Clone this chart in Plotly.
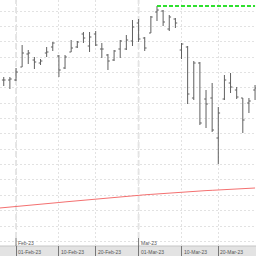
import plotly.graph_objects as go

# ---------------- data ----------------
dates = ["2023-01-30", "2023-01-31",
         "2023-02-01", "2023-02-02", "2023-02-03", "2023-02-06", "2023-02-07", "2023-02-08",
         "2023-02-09", "2023-02-10", "2023-02-13", "2023-02-14", "2023-02-15", "2023-02-16",
         "2023-02-17", "2023-02-20", "2023-02-21", "2023-02-22", "2023-02-23", "2023-02-24",
         "2023-02-27", "2023-02-28",
         "2023-03-01", "2023-03-02", "2023-03-03", "2023-03-06", "2023-03-07", "2023-03-08",
         "2023-03-09", "2023-03-10", "2023-03-13", "2023-03-14", "2023-03-15", "2023-03-16",
         "2023-03-17", "2023-03-20", "2023-03-21", "2023-03-22", "2023-03-23", "2023-03-24",
         "2023-03-27", "2023-03-28"]
opens = [37.0, 37.0, 37.0, 38.3, 39.6, 39.0, 38.7, 39.7, 40.3, 39.4, 38.2, 39.8, 40.3, 41.6,
         40.4, 41.6, 40.1, 39.5, 39.0, 40.1, 40.1, 40.9, 42.7, 41.2, 41.7, 43.8, 43.9, 42.1,
         43.1, 40.0, 40.3, 35.2, 38.7, 35.1, 35.2, 31.2, 35.1, 36.7, 36.0, 35.2, 34.7, 36.0]
highs = [37.3, 37.3, 38.2, 40.5, 40.0, 39.3, 39.1, 40.3, 40.8, 39.5, 39.5, 41.0, 40.9, 41.8,
         41.8, 41.9, 40.7, 39.6, 40.0, 41.0, 41.5, 43.0, 43.1, 41.3, 43.4, 44.4, 44.0, 43.5,
         43.2, 40.7, 40.4, 38.9, 38.8, 36.0, 36.7, 34.3, 37.5, 37.7, 36.3, 35.2, 35.2, 36.5]
lows = [36.4, 36.1, 36.9, 38.3, 38.6, 38.1, 38.5, 39.3, 39.9, 37.3, 38.1, 39.8, 40.2, 40.7,
        39.8, 40.4, 39.2, 38.0, 38.9, 39.2, 40.0, 40.4, 40.8, 39.9, 41.7, 42.9, 42.4, 41.9,
        42.2, 39.1, 34.6, 35.0, 32.5, 32.2, 31.8, 28.6, 35.0, 35.7, 35.1, 31.7, 33.7, 35.0]
closes = [37.0, 37.1, 37.8, 39.7, 39.7, 38.8, 38.9, 39.8, 40.7, 38.0, 39.3, 40.2, 40.8, 41.2,
          41.3, 40.5, 40.1, 38.9, 39.9, 40.9, 41.0, 42.3, 41.1, 40.2, 43.3, 44.0, 42.8, 43.3,
          42.7, 40.6, 35.6, 38.7, 32.7, 34.6, 32.0, 33.7, 37.0, 36.3, 35.3, 33.0, 34.9, 36.2]

ma_dates = ["2023-01-27"] + dates
ma_values = [24.18, 24.23, 24.29, 24.35, 24.41, 24.47, 24.52, 24.58, 24.64, 24.70, 24.75,
             24.81, 24.87, 24.93, 24.98, 25.04, 25.10, 25.15, 25.21, 25.27, 25.33, 25.38,
             25.43, 25.47, 25.52, 25.56, 25.61, 25.65, 25.70, 25.75, 25.79, 25.84, 25.88,
             25.91, 25.94, 25.97, 26.01, 26.04, 26.07, 26.10, 26.13, 26.16, 26.20]

tick_dates = ["2023-02-01", "2023-02-10", "2023-02-20", "2023-03-01", "2023-03-10", "2023-03-20"]
tick_labels = ["01-Feb-23", "10-Feb-23", "20-Feb-23", "01-Mar-23", "10-Mar-23", "20-Mar-23"]
month_dates = ["2023-02-01", "2023-03-01"]
month_labels = ["Feb-23", "Mar-23"]

# ---------------- figure ----------------
fig = go.Figure()

fig.add_trace(go.Scatter(x=ma_dates, y=ma_values, mode="lines",
                         line=dict(color="#f47070", width=1), hoverinfo="skip"))

fig.add_trace(go.Ohlc(x=dates, open=opens, high=highs, low=lows, close=closes,
                      increasing=dict(line=dict(color="#606060", width=1)),
                      decreasing=dict(line=dict(color="#606060", width=1)),
                      tickwidth=0.3))

peak_i = highs.index(max(highs))
fig.add_trace(go.Scatter(x=dates[peak_i:], y=[max(highs)] * len(dates[peak_i:]),
                         mode="lines", line=dict(color="#2ee02e", width=2, dash="4px,2px"),
                         hoverinfo="skip"))

H = 256.0
# bottom axis band
fig.add_shape(type="rect", xref="paper", yref="paper", x0=-0.01, x1=1.01, y0=-0.01, y1=10 / H,
              fillcolor="#e3e3e3", line=dict(color="#c6c6c6", width=1), layer="between")

for d, lab in zip(month_dates, month_labels):
    fig.add_shape(type="line", xref="x", yref="paper", x0=d, x1=d, y0=18 / H, y1=1,
                  line=dict(color="#e6e6e6", width=2, dash="6px,3px"), layer="below")
    fig.add_shape(type="line", xref="x", yref="paper", x0=d, x1=d, y0=10 / H, y1=18 / H,
                  line=dict(color="#777777", width=1), layer="above")
    fig.add_annotation(x=d, y=13.5 / H, xref="x", yref="paper", text=lab, showarrow=False,
                       xanchor="left", yanchor="middle", xshift=0,
                       font=dict(family="Liberation Sans", size=5, color="#555555"))

for d, lab in zip(tick_dates, tick_labels):
    fig.add_annotation(x=d, y=4.5 / H, xref="x", yref="paper", text=lab, showarrow=False,
                       xanchor="left", yanchor="middle", xshift=0,
                       font=dict(family="Liberation Sans", size=5, color="#555555"))

fig.update_layout(
    width=256, height=256,
    margin=dict(l=0, r=0, t=0, b=0),
    paper_bgcolor="white", plot_bgcolor="white",
    showlegend=False,
    xaxis=dict(
        type="date",
        range=["2023-01-27 09:20", "2023-03-28 03:40"],
        rangebreaks=[dict(bounds=["sat", "mon"])],
        rangeslider=dict(visible=False),
        tickmode="array", tickvals=tick_dates, ticktext=tick_labels,
        showticklabels=False,
        ticks="inside", ticklen=10, tickcolor="#777777", tickwidth=1,
        showgrid=True, gridcolor="#e2e2e2", gridwidth=1, griddash="2px,2px",
        showline=False, zeroline=False, fixedrange=True,
    ),
    yaxis=dict(
        range=[19.4, 45.0],
        tick0=43.9, dtick=1.536,
        showticklabels=False, ticks="",
        showgrid=True, gridcolor="#e2e2e2", gridwidth=1, griddash="2px,2px",
        showline=False, zeroline=False, fixedrange=True,
    ),
)

fig.write_html("out.html")
